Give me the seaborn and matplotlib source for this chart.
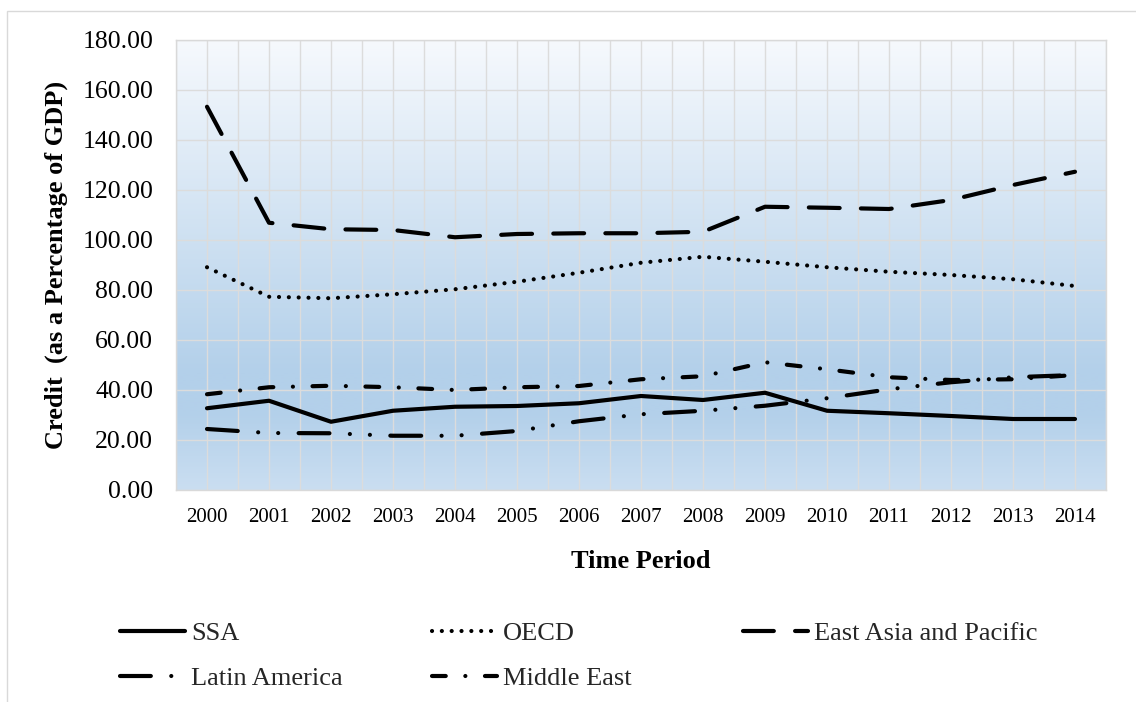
import numpy as np
import pandas as pd
import matplotlib
matplotlib.use("Agg")
import matplotlib.pyplot as plt
import seaborn as sns
from matplotlib.colors import LinearSegmentedColormap
from matplotlib.patches import Rectangle
from matplotlib.ticker import MultipleLocator, FormatStrFormatter

# Domestic credit to the private sector, % of GDP
years = list(range(2000, 2015))
ssa = [32.7, 35.7, 27.3, 31.7, 33.3, 33.6, 34.7, 37.6, 36.0, 38.9, 31.7, 30.7, 29.6, 28.4, 28.4]
oecd = [89.1, 77.3, 76.7, 78.3, 80.3, 83.3, 86.9, 90.9, 93.3, 91.3, 89.1, 87.3, 86.0, 84.3, 81.6]
east_asia = [153.3, 106.9, 104.3, 104.0, 101.1, 102.4, 102.7, 102.7, 103.3, 113.3, 112.9, 112.4, 116.0, 122.0, 127.3]
latin_america = [24.4, 22.8, 22.7, 21.7, 21.7, 23.6, 27.5, 30.3, 31.7, 33.7, 36.7, 40.3, 43.1, 45.1, 46.0]
middle_east = [38.3, 41.1, 41.7, 41.1, 40.0, 41.1, 41.6, 44.3, 45.5, 51.1, 48.3, 45.1, 44.0, 44.3, 46.0]

labels = ["SSA", "OECD", "East Asia and Pacific", "Latin America", "Middle East"]
values = [ssa, oecd, east_asia, latin_america, middle_east]
line_styles = {
    "SSA": "-",
    "OECD": (0, (0.01, 2.35)),
    "East Asia and Pacific": (0, (7.4, 5.1)),
    "Latin America": (0, (7.4, 4.9, 0.01, 4.8, 0.01, 4.9)),
    "Middle East": (0, (3.3, 4.7, 0.01, 4.7)),
}

df = pd.DataFrame({"Year": years})
for name, vals in zip(labels, values):
    df[name] = vals

sns.set_theme(style="white")
plt.rcParams["font.family"] = ["Liberation Serif", "DejaVu Serif"]

W, H = 1136, 702
fig = plt.figure(figsize=(W / 100, H / 100), dpi=100)
fig.patch.set_facecolor("white")
ax = fig.add_axes([176 / W, 1 - 490 / H, (1106 - 176) / W, 450 / H])

# vertical gradient fill of the plot area
grad = LinearSegmentedColormap.from_list(
    "panel",
    [(0.0, "#f6f9fd"), (0.74, "#b3d0ea"), (0.83, "#b3d0ea"), (1.0, "#cadef1")],
)
ax.imshow(np.linspace(0, 1, 256).reshape(-1, 1), cmap=grad, aspect="auto",
          extent=[0, 1, 0, 1], transform=ax.transAxes, zorder=0,
          interpolation="bilinear")

for name in labels:
    sns.lineplot(data=df, x="Year", y=name, ax=ax, color="black", linewidth=3,
                 linestyle=line_styles[name], dash_capstyle="round",
                 solid_capstyle="round", solid_joinstyle="round",
                 dash_joinstyle="round", label=name, legend=False,
                 errorbar=None, zorder=3)

ax.set_xlim(1999.5, 2014.5)
ax.set_ylim(0, 180)
ax.xaxis.set_major_locator(MultipleLocator(1))
ax.xaxis.set_minor_locator(MultipleLocator(0.5))
ax.yaxis.set_major_locator(MultipleLocator(20))
ax.yaxis.set_major_formatter(FormatStrFormatter("%.2f"))
ax.set_axisbelow(True)
ax.grid(which="both", axis="x", color="#dcdcdc", linewidth=1)
ax.grid(which="major", axis="y", color="#dcdcdc", linewidth=1)
ax.tick_params(axis="both", which="both", length=0)
ax.tick_params(axis="x", labelsize=15, pad=13, colors="black")
ax.tick_params(axis="y", labelsize=18.5, pad=16.5, colors="black")
for s in ax.spines.values():
    s.set_color("#d9d9d9")
    s.set_linewidth(1)
    s.set_visible(True)

ax.set_xlabel("Time Period", fontsize=19, fontweight="bold", color="black")
ax.xaxis.label.set_va("center")
ax.xaxis.set_label_coords(0.5, (490 - 562) / 450)
ax.set_ylabel("Credit  (as a Percentage of GDP)", fontsize=19, fontweight="bold", color="black")
ax.yaxis.label.set_va("center")
ax.yaxis.set_label_coords((56 - 176) / 930, 0.5)

# legend laid out in three evenly spaced columns
handles = {ln.get_label(): ln for ln in ax.get_lines()}
columns = [["SSA", "Latin America"], ["OECD", "Middle East"], ["East Asia and Pacific"]]
col_x = [120, 432, 743]
for x0, names in zip(col_x, columns):
    fig.legend([handles[n] for n in names], names, loc="upper left",
               bbox_to_anchor=(x0 / W, 1 - 622 / H), frameon=False,
               fontsize=19, handlelength=2.45, handletextpad=0.25,
               labelspacing=0.8, borderpad=0, borderaxespad=0)

# chart area outline
fig.add_artist(Rectangle((7 / W, -0.1), 1.2, 1.1 - 11 / H, transform=fig.transFigure,
                         fill=False, edgecolor="#d9d9d9", linewidth=1))

fig.savefig("out.png", dpi=100)
